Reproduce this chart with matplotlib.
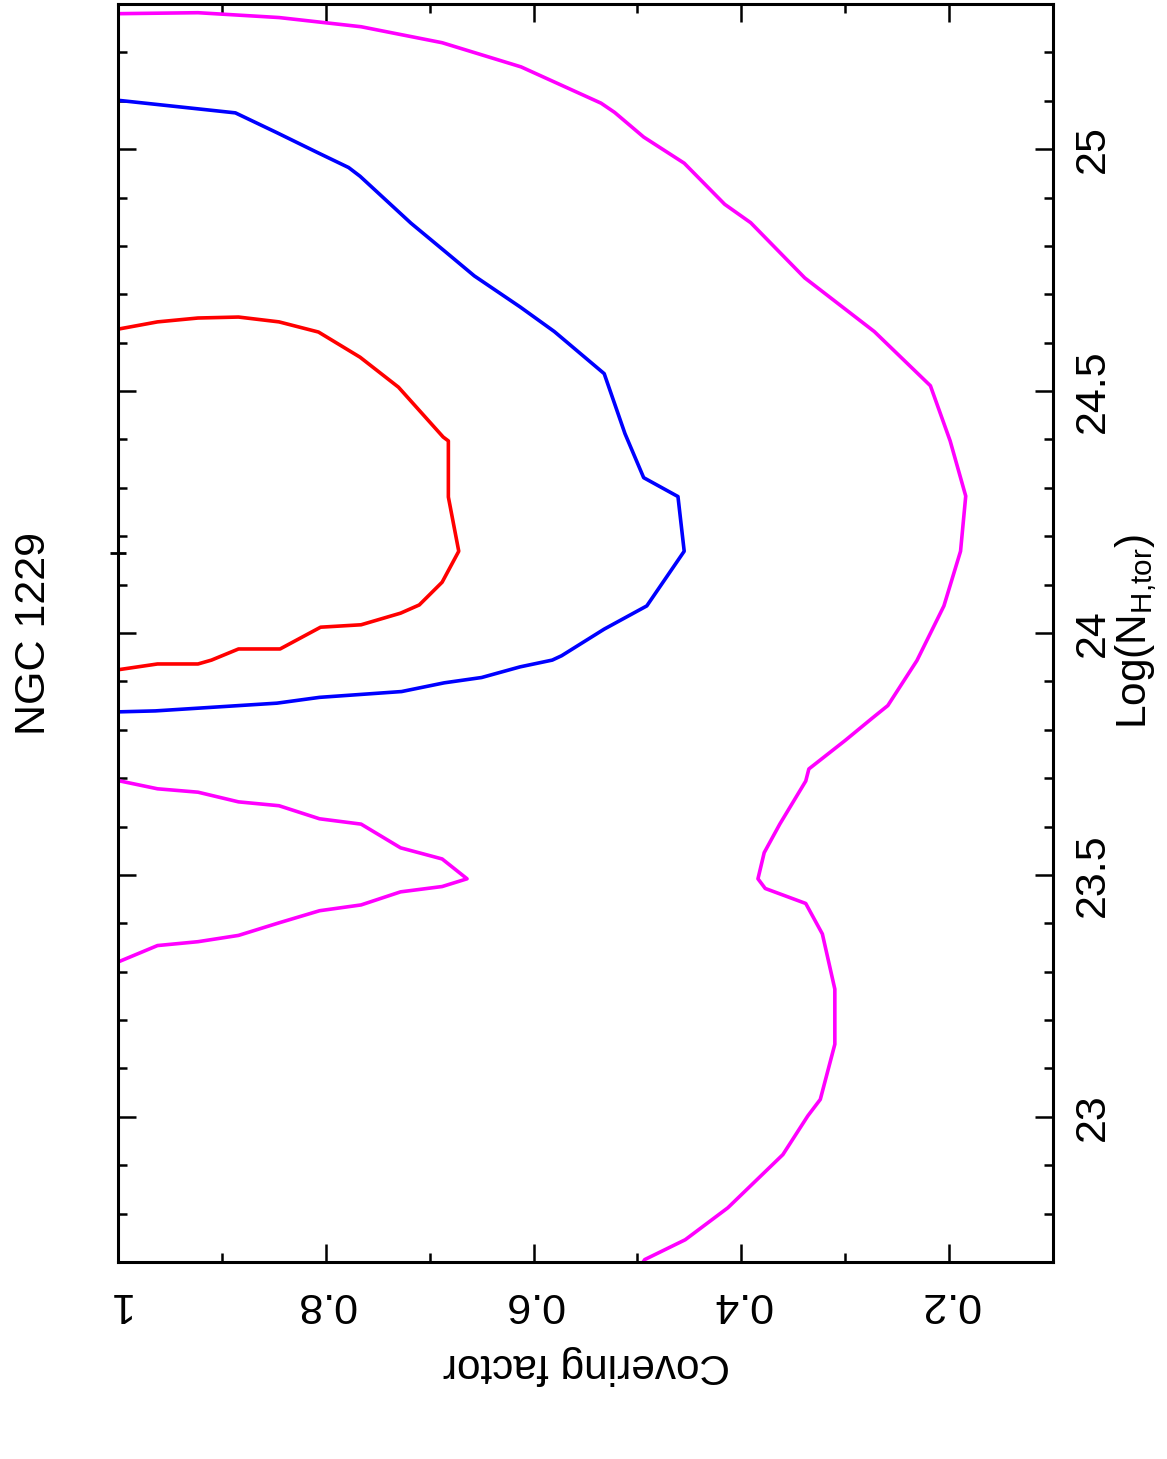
import matplotlib
matplotlib.use("Agg")
import matplotlib.pyplot as plt
from matplotlib.ticker import MultipleLocator

plt.rcParams['font.family'] = ['Liberation Sans', 'DejaVu Sans']
plt.rcParams['mathtext.default'] = 'regular'

# ---- data: (covering factor, log NH) along each confidence contour ----
red_cf = [1.000, 0.962, 0.923, 0.884, 0.845, 0.807, 0.767, 0.730, 0.687, 0.682,
          0.682, 0.672, 0.688, 0.710, 0.728, 0.766, 0.805, 0.844, 0.884, 0.910,
          0.923, 0.962, 1.000]
red_nh = [24.628, 24.643, 24.651, 24.653, 24.643, 24.622, 24.570, 24.508, 24.405, 24.397,
          24.281, 24.169, 24.105, 24.058, 24.041, 24.017, 24.012, 23.967, 23.967, 23.944,
          23.936, 23.936, 23.924]

blue_cf = [1.000, 0.887, 0.847, 0.808, 0.778, 0.767, 0.718, 0.686, 0.657, 0.613,
           0.580, 0.532, 0.512, 0.494, 0.461, 0.455, 0.491, 0.532, 0.573, 0.582,
           0.613, 0.650, 0.686, 0.727, 0.806, 0.847, 0.964, 1.000]
blue_nh = [25.101, 25.075, 25.034, 24.993, 24.962, 24.944, 24.847, 24.790, 24.738, 24.674,
           24.623, 24.536, 24.412, 24.321, 24.282, 24.169, 24.056, 24.008, 23.953, 23.944,
           23.930, 23.908, 23.897, 23.879, 23.867, 23.855, 23.839, 23.837]

mag_in_cf = [1.000, 0.962, 0.923, 0.884, 0.845, 0.806, 0.766, 0.728, 0.688, 0.664,
             0.688, 0.728, 0.766, 0.806, 0.845, 0.884, 0.923, 0.962, 1.000]
mag_in_nh = [23.695, 23.678, 23.671, 23.651, 23.643, 23.616, 23.605, 23.556, 23.533, 23.492,
             23.476, 23.465, 23.438, 23.426, 23.401, 23.375, 23.362, 23.354, 23.320]

mag_out_cf = [1.000, 0.923, 0.845, 0.766, 0.688, 0.612, 0.535, 0.522, 0.494, 0.455,
              0.416, 0.391, 0.339, 0.272, 0.218, 0.199, 0.184, 0.189, 0.205, 0.231,
              0.259, 0.274, 0.300, 0.335, 0.338, 0.363, 0.378, 0.384, 0.377, 0.338,
              0.322, 0.310, 0.310, 0.324, 0.336, 0.360, 0.413, 0.454, 0.493, 0.496]
mag_out_nh = [25.280, 25.282, 25.272, 25.253, 25.220, 25.170, 25.095, 25.076, 25.025, 24.971,
              24.886, 24.848, 24.734, 24.623, 24.511, 24.397, 24.283, 24.169, 24.056, 23.943,
              23.850, 23.824, 23.778, 23.719, 23.694, 23.605, 23.546, 23.492, 23.472, 23.441,
              23.378, 23.264, 23.150, 23.036, 23.002, 22.922, 22.812, 22.746, 22.705, 22.695]

best_cf = [1.0]
best_nh = [24.165]

cf_ticks = [1.0, 0.8, 0.6, 0.4, 0.2]
cf_labels = ['1', '0.8', '0.6', '0.4', '0.2']
nh_ticks = [23.0, 23.5, 24.0, 24.5, 25.0]
nh_labels = ['23', '23.5', '24', '24.5', '25']

W, H = 1167, 1459
fig = plt.figure(figsize=(W / 100, H / 100), dpi=100)
L, R, T, B = 118, 1053, 4, 1262
ax = fig.add_axes([L / W, 1 - B / H, (R - L) / W, (B - T) / H])

lw = 2.6
ax.plot(mag_out_cf, mag_out_nh, color='#ff00ff', lw=lw)
ax.plot(mag_in_cf, mag_in_nh, color='#ff00ff', lw=lw)
ax.plot(blue_cf, blue_nh, color='#0000ff', lw=lw)
ax.plot(red_cf, red_nh, color='#ff0000', lw=lw)
ax.plot(best_cf, best_nh, marker='+', color='black', ms=12, mew=2.0,
        ls='none', clip_on=False)

ax.set_xlim(1.0, 0.1)
ax.set_ylim(22.7, 25.3)

for s in ax.spines.values():
    s.set_linewidth(2.2)

ax.set_xticks(cf_ticks)
ax.set_xticklabels(cf_labels)
ax.xaxis.set_minor_locator(MultipleLocator(0.1))
ax.set_yticks(nh_ticks)
ax.set_yticklabels(nh_labels)
ax.yaxis.set_minor_locator(MultipleLocator(0.1))

ax.tick_params(axis='both', which='both', direction='in', top=True, bottom=True,
               left=True, right=True, width=1.8)
ax.tick_params(axis='both', which='major', length=13)
ax.tick_params(axis='both', which='minor', length=6.5)
ax.tick_params(axis='x', labelsize=31, labelrotation=180, pad=16)
ax.tick_params(axis='y', labelsize=31, labelleft=False, labelright=True,
               labelrotation=90, pad=14)
for t in ax.get_yticklabels():
    t.set_va('center')

fig.text(34 / W, 1 - 633 / H, 'NGC 1229', rotation=90, ha='center', va='center',
         fontsize=31)
fig.text(586 / W, 1 - 1365 / H, 'Covering factor', rotation=180, ha='center',
         va='center', fontsize=30.5)
fig.text(1136 / W, 1 - 632 / H, 'Log(N$_{H{,}tor}$)', rotation=90, ha='center',
         va='center', fontsize=30.5)

fig.savefig('out.png', dpi=100)
